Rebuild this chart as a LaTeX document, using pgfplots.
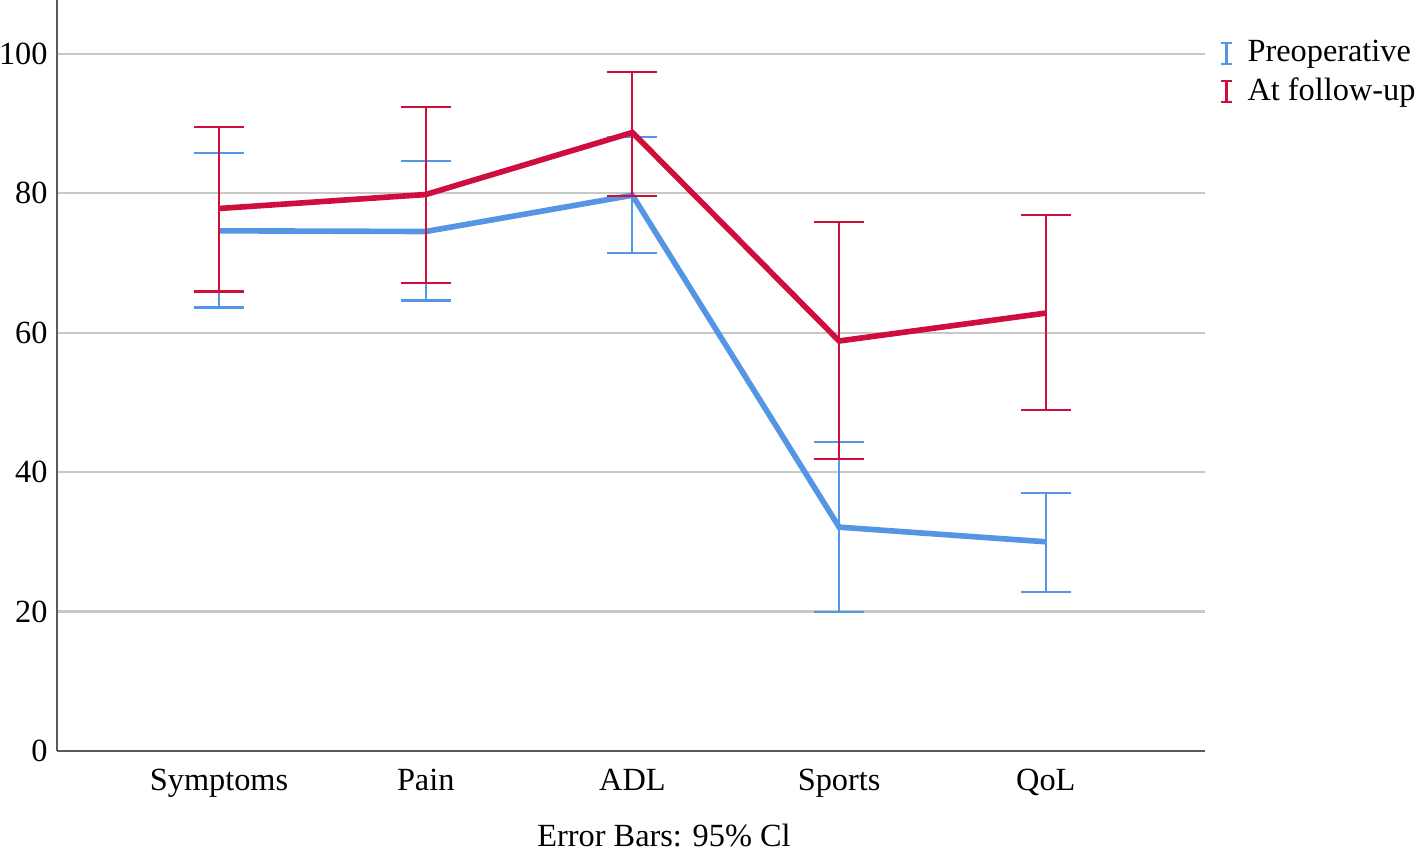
\documentclass[border=0pt]{standalone}
\usepackage{fontspec}
\setmainfont{Liberation Serif}
\usepackage{pgfplots}
\pgfplotsset{compat=1.18}
\definecolor{preblue}{RGB}{84,150,228}
\definecolor{fured}{RGB}{208,14,62}
\definecolor{axgray}{RGB}{90,90,90}
\definecolor{gridgray}{RGB}{200,200,200}
\newcommand{\chartfont}{\fontsize{9.2}{11}\selectfont}

% x  mean  plus  minus
\pgfplotstableread{
x m ep em
0 74.6 11.2 11.0
1 74.5 10.1 9.9
2 79.7 8.4 8.3
3 32.1 12.2 12.2
4 30.0 7.0 7.2
}\pre
\pgfplotstableread{
x m ep em
0 77.8 11.7 11.9
1 79.8 12.6 12.7
2 88.7 8.7 9.1
3 58.8 17.0 16.9
4 62.8 14.1 13.9
}\fu

\begin{document}
\begin{tikzpicture}[font=\chartfont]
\path[use as bounding box] (-5.7mm,-10.3mm) rectangle (135.9mm,75.1mm);
\begin{axis}[
    at={(0,0)}, anchor=south west,
    scale only axis, width=114.8mm, height=75.1mm,
    xmin=-0.784, xmax=4.77, ymin=0, ymax=107.7,
    axis x line*=bottom, axis y line*=left,
    axis line style={axgray, line width=0.6pt, -},
    xtick=data, xticklabels={Symptoms,Pain,ADL,Sports,QoL},
    ytick={0,20,...,100},
    major tick length=0pt,
    ymajorgrids, grid style={gridgray, line width=0.6pt},
    tick label style={font=\chartfont},
    /pgf/number format/assume math mode=true,
    xticklabel style={yshift=-0.6mm},
    yticklabel style={xshift=0.3mm},
    legend style={at={(1.0087,0.954)}, anchor=north west, draw=none, fill=none,
                  font=\chartfont, row sep=0pt, inner sep=0pt,
                  nodes={inner sep=1.5pt}},
    legend cell align=left,
    legend image code/.code={
      \draw[#1, line width=0.6pt] (0.08cm,-0.105cm)--(0.08cm,0.105cm)
        (0.025cm,-0.105cm)--(0.135cm,-0.105cm)
        (0.025cm,0.105cm)--(0.135cm,0.105cm);
      \path (0,0) (0.21cm,0);},
  ]
  \addplot[preblue, line width=1.6pt, mark=none,
    error bars/.cd, y dir=both, y explicit,
    error bar style={preblue, line width=0.6pt},
    error mark options={preblue, rotate=90, mark size=2.5mm, line width=0.6pt}]
    table[x=x, y=m, y error plus=ep, y error minus=em] {\pre};
  \addlegendentry{Preoperative}
  \addplot[fured, line width=1.6pt, mark=none,
    error bars/.cd, y dir=both, y explicit,
    error bar style={fured, line width=0.6pt},
    error mark options={fured, rotate=90, mark size=2.5mm, line width=0.6pt}]
    table[x=x, y=m, y error plus=ep, y error minus=em] {\fu};
  \addlegendentry{At follow-up}
\end{axis}
\node[font=\chartfont] at (60.7mm,-8.5mm) {Error Bars: 95\% Cl};
\end{tikzpicture}
\end{document}
